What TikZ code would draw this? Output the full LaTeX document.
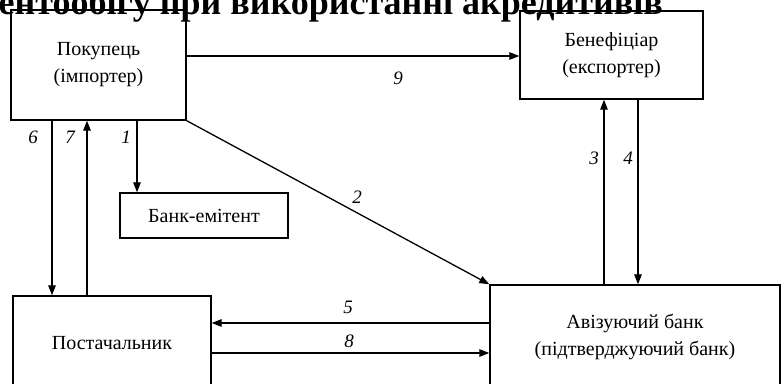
\documentclass[tikz,border=0pt]{standalone}
\usepackage{fontspec}
\setmainfont{Liberation Serif}
\usetikzlibrary{arrows.meta}
\tikzset{
  box/.style={draw, line width=1.4pt, inner sep=0pt, align=center, font=\fontsize{20}{27}\selectfont},
  arr/.style={line width=1.3pt, -{Triangle[length=10pt,width=7.5pt]}},
  num/.style={font=\fontsize{19}{19}\selectfont\itshape, inner sep=0pt},
}
\begin{document}
\begin{tikzpicture}[x=1pt,y=-1pt]
\useasboundingbox (0,0) rectangle (782,383);
\clip (0,0) rectangle (782,383);
\fill[white] (0,0) rectangle (782,383);

% heading, only its lower part falls inside the frame
\node[anchor=base east, inner sep=0pt, font=\fontsize{36}{36}\selectfont\bfseries] (title) at (663,14)
  {Схема документообігу при використанні акредитивів};

% participants
\node[box, minimum width=175pt, minimum height=110pt] (buyer) at (98.5,65) {Покупець\\(імпортер)};
\node[box, minimum width=183pt, minimum height=88pt] (benef) at (611.5,55) {Бенефіціар\\(експортер)};
\node[box, minimum width=168pt, minimum height=45pt] (emit) at (204,215.5) {Банк-емітент};
\node[box, minimum width=198pt, minimum height=94pt] (supp) at (112,343) {Постачальник};
\node[box, minimum width=290pt, minimum height=103pt] (advis) at (635,336.5) {Авізуючий банк\\(підтверджуючий банк)};

% vertical and horizontal positions of the connectors
\coordinate (c6) at (52,0);
\coordinate (c7) at (87,0);
\coordinate (c1) at (137,0);
\coordinate (c3) at (604,0);
\coordinate (c4) at (638,0);
\coordinate (c9) at (0,56);
\coordinate (c5) at (0,323);
\coordinate (c8) at (0,353);

% flows
\draw[arr] (c1 |- buyer.south) -- (c1 |- emit.north);
\draw[arr] (buyer.south east) -- (advis.north west);
\draw[arr] (c3 |- advis.north) -- (c3 |- benef.south);
\draw[arr] (c4 |- benef.south) -- (c4 |- advis.north);
\draw[arr] (c5 -| advis.west) -- (c5 -| supp.east);
\draw[arr] (c6 |- buyer.south) -- (c6 |- supp.north);
\draw[arr] (c7 |- supp.north) -- (c7 |- buyer.south);
\draw[arr] (c8 -| supp.east) -- (c8 -| advis.west);
\draw[arr] (c9 -| buyer.east) -- (c9 -| benef.west);

% step numbers
\node[num] (n1) at (126,137) {1};
\node[num] (n2) at (357,197) {2};
\node[num] (n3) at (594,158) {3};
\node[num] (n4) at (628,158) {4};
\node[num] (n5) at (348,307) {5};
\node[num] (n6) at (33,137) {6};
\node[num] (n7) at (70,137) {7};
\node[num] (n8) at (349,341) {8};
\node[num] (n9) at (398,78) {9};
\end{tikzpicture}
\end{document}
